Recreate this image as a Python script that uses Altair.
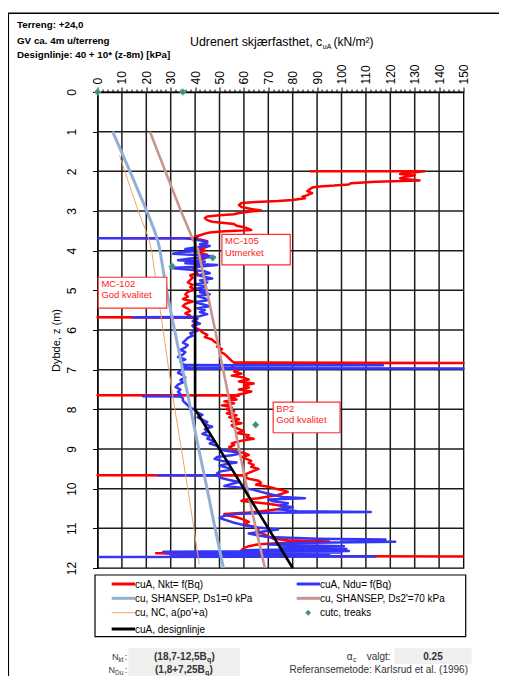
import altair as alt
import pandas as pd

# ------------------------------------------------------------------ data
red_z = [2.00, 2.00, 2.04, 2.07, 2.10, 2.14, 2.18, 2.23, 2.26, 2.30, 2.33, 2.36, 2.38, 2.41, 2.45, 2.50,
         2.55, 2.60, 2.64, 2.68, 2.72, 2.75, 2.77, 2.80, 2.85, 2.90, 2.95, 2.99, 3.02, 3.05, 3.08, 3.11,
         3.14, 3.18, 3.23, 3.27, 3.30, 3.33, 3.37, 3.41, 3.45, 3.48, 3.51, 3.54, 3.57, 3.61, 3.65, 3.68,
         3.685, 3.69, 3.72, 3.76, 3.80, 3.85, 3.90, 3.95, 4.00, 4.05, 4.10, 4.15, 4.20, 4.25, 4.30, 4.35,
         4.40, 4.45, 4.50, 4.57, 4.62, 4.68, 4.74, 4.80, 4.86, 4.92, 4.98, 5.04, 5.10, 5.16, 5.22, 5.28,
         5.34, 5.40, 5.46, 5.52, 5.58, 5.64, 5.67, 5.68, 5.69, 5.75, 5.82, 5.88, 5.94, 6.00, 6.06, 6.12,
         6.18, 6.24, 6.30, 6.36, 6.42, 6.48, 6.54, 6.60, 6.66, 6.72, 6.78, 6.82, 6.83, 6.84, 6.88, 6.94,
         7.00, 7.05, 7.10, 7.15, 7.20, 7.25, 7.30, 7.35, 7.40, 7.45, 7.50, 7.55, 7.60, 7.64, 7.645, 7.65,
         7.70, 7.75, 7.80, 7.85, 7.90, 7.95, 8.00, 8.05, 8.10, 8.15, 8.20, 8.25, 8.30, 8.35, 8.40, 8.45,
         8.50, 8.55, 8.60, 8.65, 8.70, 8.74, 8.78, 8.82, 8.86, 8.90, 8.95, 9.00, 9.05, 9.10, 9.15, 9.20,
         9.25, 9.30, 9.35, 9.40, 9.45, 9.50, 9.55, 9.60, 9.655, 9.66, 9.665, 9.70, 9.75, 9.80, 9.85, 9.90,
         9.95, 10.00, 10.04, 10.08, 10.12, 10.16, 10.20, 10.24, 10.28, 10.31, 10.34, 10.38, 10.42, 10.46,
         10.50, 10.55, 10.60, 10.64, 10.67, 10.72, 10.78, 10.84, 10.90, 10.96, 11.02, 11.08, 11.14, 11.20,
         11.26, 11.30, 11.33, 11.36, 11.40, 11.45, 11.50, 11.55, 11.58, 11.60, 11.63, 11.65, 11.68, 11.70,
         11.71]
red_cu = [87, 134, 127, 124, 130, 126, 124, 132, 114, 104, 103, 97, 91, 88, 87, 86,
          88, 86, 84, 85, 80, 74, 65, 59, 58, 59, 63, 67, 62, 58, 56, 50,
          45, 44, 45, 47, 52, 56, 57, 60, 62, 63, 52, 46, 44, 42, 40, 41,
          10, 38, 42, 45, 44, 43, 45, 42, 44, 41, 45, 42, 44, 41, 43, 40,
          42, 39, 40, 41, 38, 39, 38, 37, 39, 38, 40, 37, 36, 37, 35, 39,
          36, 35, 37, 38, 36, 38, 37, 0, 39, 40, 41, 39, 40, 42, 43, 45,
          44, 47, 48, 50, 49, 51, 50, 52, 53, 54, 55, 56, 150, 57, 56, 55,
          58, 56, 59, 55, 60, 62, 58, 64, 60, 62, 58, 63, 60, 57, 0, 58,
          54, 57, 52, 56, 51, 55, 53, 56, 53, 57, 54, 58, 55, 59, 55, 56,
          58, 60, 57, 62, 61, 64, 60, 57, 55, 56, 54, 55, 56, 60, 62, 59,
          61, 63, 62, 64, 63, 66, 64, 62, 60, 0, 61, 60, 62, 66, 67, 65,
          70, 73, 76, 78, 76, 74, 70, 66, 60, 59, 64, 70, 74, 78,
          76, 70, 62, 52, 53, 57, 60, 62, 60, 64, 66, 65, 68, 70,
          72, 78, 95, 80, 66, 62, 60, 59, 63, 60, 24, 60, 40, 60,
          150]

blue_z = [3.685, 3.69, 3.72, 3.76, 3.80, 3.84, 3.88, 3.92, 3.96, 4.00, 4.04, 4.08, 4.12, 4.16, 4.20, 4.24,
          4.28, 4.32, 4.36, 4.40, 4.44, 4.48, 4.52, 4.57, 4.62, 4.66, 4.70, 4.75, 4.80, 4.85, 4.90, 4.95,
          5.00, 5.05, 5.10, 5.15, 5.20, 5.25, 5.30, 5.35, 5.40, 5.45, 5.50, 5.55, 5.60, 5.65, 5.675, 5.68,
          5.685, 5.72, 5.78, 5.84, 5.90, 5.96, 6.02, 6.08, 6.14, 6.20, 6.26, 6.32, 6.38, 6.44, 6.50, 6.56,
          6.62, 6.68, 6.74, 6.80, 6.86, 6.885, 6.89, 6.895, 6.93, 6.965, 6.97, 6.975, 7.02, 7.08, 7.14, 7.20,
          7.26, 7.32, 7.38, 7.44, 7.50, 7.56, 7.62, 7.665, 7.67, 7.675, 7.72, 7.78, 7.84, 7.90, 7.96, 8.02,
          8.08, 8.14, 8.20, 8.26, 8.32, 8.38, 8.44, 8.50, 8.56, 8.62, 8.68, 8.74, 8.80, 8.86, 8.92, 8.98,
          9.04, 9.08, 9.12, 9.16, 9.20, 9.25, 9.30, 9.34, 9.38, 9.42, 9.47, 9.52, 9.57, 9.62, 9.655, 9.66,
          9.665, 9.72, 9.78, 9.83, 9.88, 9.93, 9.98, 10.03, 10.08, 10.13, 10.17, 10.21, 10.24, 10.27, 10.32,
          10.37, 10.42, 10.47, 10.52, 10.57, 10.59, 10.61, 10.64, 10.68, 10.74, 10.80, 10.86, 10.92, 10.98,
          11.03, 11.08, 11.13, 11.18, 11.22, 11.26, 11.28, 11.31, 11.34, 11.37, 11.41, 11.45, 11.48, 11.52,
          11.55, 11.57, 11.59, 11.61, 11.63, 11.65, 11.67, 11.69, 11.71, 11.72]
blue_cu = [0, 36, 40, 44, 45, 42, 46, 40, 36, 42, 34, 31, 44, 48, 38, 33,
           44, 36, 49, 42, 30, 38, 44, 46, 41, 44, 47, 42, 45, 40, 44, 41,
           45, 42, 46, 41, 44, 45, 40, 43, 46, 41, 44, 42, 45, 42, 40, 14.5,
           40, 41, 39, 42, 39, 40, 41, 38, 39, 37, 36, 35, 37, 36, 34, 36,
           35, 33, 36, 34, 35, 36, 117, 37, 35, 36, 150, 35, 34, 33, 35, 36,
           34, 35, 33, 32, 34, 33, 34, 33, 18.7, 34, 35, 35, 36, 37, 38, 40,
           41, 43, 41, 43, 45, 44, 47, 44, 45, 43, 46, 45, 48, 46, 49, 50,
           52, 57, 58, 55, 49, 48, 51, 57, 53, 50, 53, 55, 50, 49, 50, 24.8,
           50, 50, 54, 58, 55, 52, 60, 64, 67, 70, 73, 76, 85, 70, 72,
           78, 75, 80, 74, 82, 112, 70, 57, 52, 50, 53, 56, 60, 66,
           74, 68, 62, 66, 70, 90, 118, 100, 122, 80, 70, 101, 75, 102,
           60, 103, 27, 100, 28, 95, 30, 85, 114, 0]

shansep0_z = [1, 2, 3, 3.5, 3.8, 4, 5, 6, 7, 8, 9, 10, 11, 12]
shansep0_cu = [6.2, 13.3, 20.2, 23.4, 24.9, 25.6, 28.3, 31.6, 34.9, 38.2, 41.5, 44.9, 48.2, 51.6]

shansep70_z = [1, 2, 3, 3.7, 4, 5, 6, 7, 8, 9, 10, 11, 12]
shansep70_cu = [21.5, 27.8, 34.2, 39.0, 41.3, 44.8, 48.2, 51.5, 54.8, 58.0, 61.3, 64.9, 68.6]

nc_z = [1.6, 2, 3, 3.66, 4, 5, 6, 7, 8, 9, 10, 11, 11.9]
nc_cu = [9.0, 11.2, 16.7, 20.8, 22.2, 24.5, 26.9, 29.2, 31.7, 34.4, 37.0, 39.5, 41.7]

design_z = [3.65, 8.0, 12.0]
design_cu = [40.0, 40.0, 80.0]

treaks_z = [0.0, 0.0, 4.18, 4.39, 8.39]
treaks_cu = [0.0, 35.0, 47.2, 30.6, 64.8]

ann_line1 = ["MC-105", "MC-102", "BP2"]
ann_line2 = ["Utmerket", "God kvalitet", "God kvalitet"]
ann_x0 = [51.0, 0.3, 72.0]
ann_x1 = [79.0, 28.4, 99.4]
ann_z0 = [3.59, 4.67, 7.82]
ann_z1 = [4.36, 5.45, 8.59]

x_ticks = list(range(0, 151, 2))
x_grid = list(range(10, 150, 10))
y_ticks = list(range(0, 13))
y_grid = list(range(1, 12))

header_lines = ["Terreng: +24,0", "GV ca. 4m u/terreng", "Designlinje: 40 + 10* (z-8m) [kPa]"]
legend_labels = ["cuA, Nkt= f(Bq)", "cuA, Ndu= f(Bq)", "cu, SHANSEP, Ds1=0 kPa",
                 "cu, SHANSEP, Ds2'=70 kPa", "cu, NC, a(po'+a)", "cutc, treaks", "cuA, designlinje"]

# ------------------------------------------------------------------ style
W, H = 366, 476
FONT = "Liberation Sans"
RED, BLUE, LBLUE, ROSY, ORANGE, BLACK = "#FF0000", "#3535F5", "#94AFD6", "#C9958F", "#F5A35E", "#000000"
TEAL = "#3A8C8C"
GRID = "#1c1c1c"

xs = alt.Scale(domain=[0, 150], nice=False, zero=False)
ys = alt.Scale(domain=[0, 12], nice=False, zero=False, reverse=True)

major = "datum.value % 10 === 0"
x_axis = alt.Axis(
    orient="top", values=x_ticks, title=None,
    labelExpr=f"{major} ? datum.label : ''", labelAngle=270, labelFont=FONT, labelFontSize=12,
    labelColor="#000", labelPadding=3, labelOverlap=False, labelBound=False, labelFlush=False,
    tickSize={"condition": {"test": major, "value": 5}, "value": 3}, tickColor="#000",
    grid=False, domainColor="#000", domainWidth=1.3,
)
y_axis = alt.Axis(
    orient="left", values=y_ticks, title="Dybde, z (m)", titleFont=FONT, titleFontSize=11,
    titleFontWeight="normal", titleColor="#000", titleX=-41, titleY=248, titleAngle=270,
    titleAlign="center", titleBaseline="middle",
    labelAngle=270, labelFont=FONT, labelFontSize=12, labelColor="#000", labelPadding=14,
    tickSize=5, tickColor="#000", grid=False, domainColor="#000", domainWidth=1.3,
)


def X(field):
    return alt.X(field, scale=xs, axis=x_axis)


def Y(field):
    return alt.Y(field, scale=ys, axis=y_axis)


def line_layer(z, cu, color, width):
    df = pd.DataFrame({"z": z, "cu": cu, "i": list(range(len(z)))})
    return alt.Chart(df).mark_line(color=color, strokeWidth=width, strokeJoin="round").encode(
        x=X("cu:Q"), y=Y("z:Q"), order="i:Q")


def px_text(txt, x, y, size, color="#000", weight="normal", align="left", font=FONT, baseline="alphabetic"):
    return alt.Chart(pd.DataFrame({"t": [txt]})).mark_text(
        font=font, fontSize=size, fontWeight=weight, color=color, align=align, baseline=baseline
    ).encode(x=alt.value(x), y=alt.value(y), text="t:N")


def px_rule(x, y, x2=None, y2=None, color="#000", width=1.0):
    enc = {"x": alt.value(x), "y": alt.value(y)}
    if x2 is not None:
        enc["x2"] = alt.value(x2)
    if y2 is not None:
        enc["y2"] = alt.value(y2)
    return alt.Chart(pd.DataFrame({"a": [0]})).mark_rule(color=color, strokeWidth=width).encode(**enc)


def px_rect(x, y, x2, y2, fill, stroke=None, width=1.0):
    kw = {"fill": fill}
    if stroke:
        kw.update(stroke=stroke, strokeWidth=width)
    return alt.Chart(pd.DataFrame({"a": [0]})).mark_rect(**kw).encode(
        x=alt.value(x), y=alt.value(y), x2=alt.value(x2), y2=alt.value(y2))


# grid drawn as line segments through the scales (beneath the data)
gx_rows = [{"gid": f"v{g}", "cu": g, "z": zz} for g in x_grid for zz in (0, 12)]
gy_rows = [{"gid": f"h{g}", "cu": cc, "z": g} for g in y_grid for cc in (0, 150)]
grid_df = pd.DataFrame(gx_rows + gy_rows)

layers = [alt.Chart(grid_df).mark_line(color=GRID, strokeWidth=1.5).encode(
    x=X("cu:Q"), y=Y("z:Q"), detail="gid:N")]

# data series
layers.append(line_layer(red_z, red_cu, RED, 2.5))
layers.append(line_layer(blue_z, blue_cu, BLUE, 2.5))
layers.append(line_layer(shansep0_z, shansep0_cu, LBLUE, 3))
layers.append(line_layer(shansep70_z, shansep70_cu, ROSY, 2.6))
layers.append(line_layer(nc_z, nc_cu, ORANGE, 1))
layers.append(line_layer(design_z, design_cu, BLACK, 2.6))

tdf = pd.DataFrame({"z": treaks_z, "cu": treaks_cu})
layers.append(alt.Chart(tdf).mark_point(shape="diamond", filled=True, size=45, fill=TEAL,
                                        stroke="#6DBE6D", strokeWidth=0.8, opacity=1).encode(
    x=X("cu:Q"), y=Y("z:Q")))

# annotation boxes
adf = pd.DataFrame({"x0": ann_x0, "x1": ann_x1, "z0": ann_z0, "z1": ann_z1,
                    "l1": ann_line1, "l2": ann_line2})
adf["tx"] = adf["x0"] + 1.3
adf["ty1"] = adf["z0"] + 0.17
adf["ty2"] = adf["z0"] + 0.46
layers.append(alt.Chart(adf).mark_rect(fill="white", stroke="#FF3030", strokeWidth=1.2).encode(
    x=X("x0:Q"), x2="x1:Q", y=Y("z0:Q"), y2="z1:Q"))
for col, ycol in (("l1", "ty1"), ("l2", "ty2")):
    layers.append(alt.Chart(adf).mark_text(font=FONT, fontSize=9.5, color="#FF1A1A", align="left",
                                           baseline="middle").encode(
        x=X("tx:Q"), y=Y(f"{ycol}:Q"), text=f"{col}:N"))

# outer frame
layers.append(px_rule(-89.5, -78.7, x2=W + 60, width=1.5))
layers.append(px_rule(-89.2, -78.7, y2=H + 130, width=1.5))

# header
for line, yy in zip(header_lines, [-63.7, -47.7, -33.7]):
    layers.append(px_text(line, -80.5, yy, 9.8, weight="bold"))

# chart title with subscript
layers.append(px_text("Udrenert skjærfasthet, c", 92.5, -46.5, 12.4))
layers.append(px_text("uA", 225.3, -43.5, 7))
layers.append(px_text("(kN/m²)", 236.0, -46.5, 12))

# legend box
layers.append(px_rect(-2.5, 483, 368.2, 544.7, "white", stroke="#000", width=1.2))
leg_rows = [492, 492, 506.3, 506.3, 520.7, 520.7, 537]
leg_cols = [0, 1, 0, 1, 0, 1, 0]
leg_colors = [RED, BLUE, LBLUE, ROSY, ORANGE, None, BLACK]
leg_widths = [3, 3, 3, 3, 1, 0, 3]
for lab, ry, c, colr, wd in zip(legend_labels, leg_rows, leg_cols, leg_colors, leg_widths):
    x0 = 14.2 if c == 0 else 199.2
    if colr is None:
        layers.append(alt.Chart(pd.DataFrame({"a": [0]})).mark_point(
            shape="diamond", filled=True, size=30, fill=TEAL, stroke="#6DBE6D", strokeWidth=0.6,
            opacity=1).encode(x=alt.value(x0 + 11.5), y=alt.value(ry)))
    else:
        layers.append(px_rule(x0, ry, x2=x0 + 23.3, color=colr, width=wd))
    layers.append(px_text(lab, x0 + 23.3, ry + 0.5, 10, baseline="middle"))

# bottom info
GRAY_TXT = "#333333"
R1, R2 = 567.5, 580.5
layers.append(px_rect(30.8, 556.3, 142.5, 590, "#EFEFEF"))
layers.append(px_rect(296.8, 556.3, 374.2, 572, "#EFEFEF"))
layers.append(px_text("N", 14.5, R1, 9, GRAY_TXT))
layers.append(px_text("kt", 21.0, R1 + 2, 6.5, GRAY_TXT))
layers.append(px_text(":", 27.3, R1, 9, GRAY_TXT))
layers.append(px_text("N", 11.0, R2, 9, GRAY_TXT))
layers.append(px_text("Du", 17.5, R2 + 2, 6.5, GRAY_TXT))
layers.append(px_text(":", 27.3, R2, 9, GRAY_TXT))
layers.append(px_text("(18,7-12,5B", 56.5, R1, 10, GRAY_TXT, weight="bold"))
layers.append(px_text("q", 109.6, R1 + 2.5, 7, GRAY_TXT, weight="bold"))
layers.append(px_text(")", 114.0, R1, 10, GRAY_TXT, weight="bold"))
layers.append(px_text("(1,8+7,25B", 57.5, R2, 10, GRAY_TXT, weight="bold"))
layers.append(px_text("q", 107.6, R2 + 2, 7, GRAY_TXT, weight="bold"))
layers.append(px_text(")", 112.0, R2, 10, GRAY_TXT, weight="bold"))
layers.append(px_text("α", 249.2, R1, 10, GRAY_TXT))
layers.append(px_text("c", 255.5, R1 + 2.5, 7, GRAY_TXT))
layers.append(px_text("valgt:", 269.2, R1, 10, GRAY_TXT))
layers.append(px_text("0.25", 335.5, R1, 10, GRAY_TXT, weight="bold", align="center"))
layers.append(px_text("Referansemetode: Karlsrud et al. (1996)", 370.5, R2, 10, GRAY_TXT, align="right"))

chart = alt.layer(*layers).properties(
    width=W, height=H,
    autosize=alt.AutoSizeParams(type="none"),
    padding={"left": 89.5, "top": 84, "right": 35.5, "bottom": 108},
    background="white",
).configure_view(stroke="#000", strokeWidth=1.3)

chart.save("out.html", embed_options={"renderer": "svg", "actions": False})
